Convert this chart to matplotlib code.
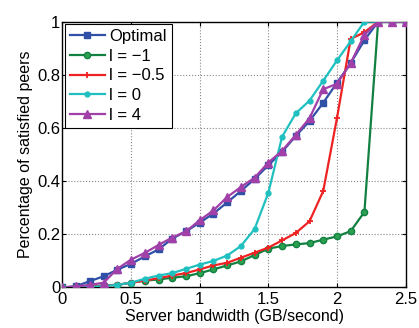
import matplotlib
matplotlib.use("Agg")
import matplotlib.pyplot as plt

plt.rcParams['font.family'] = ['Liberation Sans', 'DejaVu Sans']

x = [0.0, 0.1, 0.2, 0.3, 0.4, 0.5, 0.6, 0.7, 0.8, 0.9, 1.0, 1.1, 1.2,
     1.3, 1.4, 1.5, 1.6, 1.7, 1.8, 1.9, 2.0, 2.1, 2.2, 2.3, 2.4, 2.5]

optimal = [0.0, 0.005, 0.024, 0.042, 0.067, 0.089, 0.117, 0.143, 0.184, 0.211,
           0.244, 0.278, 0.32, 0.363, 0.408, 0.46, 0.51, 0.57, 0.626, 0.695,
           0.77, 0.844, 0.93, 1.0, 1.0, 1.0]
l_m1 = [0.0, 0.0, 0.004, 0.008, 0.01, 0.018, 0.026, 0.03, 0.037, 0.042,
        0.054, 0.068, 0.083, 0.098, 0.122, 0.146, 0.156, 0.162, 0.167, 0.18,
        0.192, 0.212, 0.284, 1.0, 1.0, 1.0]
l_m05 = [0.0, 0.0, 0.003, 0.006, 0.01, 0.018, 0.026, 0.035, 0.045, 0.054,
         0.068, 0.083, 0.093, 0.112, 0.131, 0.15, 0.177, 0.205, 0.249, 0.363,
         0.637, 0.935, 0.96, 1.0, 1.0, 1.0]
l_0 = [0.0, 0.0, 0.002, 0.005, 0.01, 0.018, 0.033, 0.045, 0.054, 0.07,
       0.086, 0.1, 0.12, 0.156, 0.22, 0.356, 0.567, 0.655, 0.703, 0.778,
       0.854, 0.926, 1.0, 1.0, 1.0, 1.0]
l_4 = [0.0, 0.004, 0.01, 0.018, 0.07, 0.105, 0.13, 0.16, 0.188, 0.211,
       0.253, 0.29, 0.34, 0.378, 0.413, 0.47, 0.514, 0.574, 0.637, 0.746,
       0.766, 0.844, 0.95, 1.0, 1.0, 1.0]

labels = ['Optimal', 'l = \u22121', 'l = \u22120.5', 'l = 0', 'l = 4']
xticks = [0, 0.5, 1, 1.5, 2, 2.5]
xticklabels = ['0', '0.5', '1', '1.5', '2', '2.5']
yticks = [0, 0.2, 0.4, 0.6, 0.8, 1]
yticklabels = ['0', '0.2', '0.4', '0.6', '0.8', '1']

fig = plt.figure(figsize=(4.19, 3.28), dpi=100)
ax = fig.add_axes([0.149, 0.1235, 0.819, 0.8105])

ax.plot(x, optimal, color='#3050a8', marker='s', ms=4.5, lw=1.6, label=labels[0], zorder=3)
ax.plot(x, l_m1, color='#118040', marker='o', ms=4.5, mfc='#2aa050', lw=1.6, label=labels[1], zorder=3)
ax.plot(x, l_m05, color='#ee2222', marker='+', ms=5, mew=1.3, lw=1.6, label=labels[2], zorder=3)
ax.plot(x, l_0, color='#20c0c0', marker='o', ms=3.5, lw=1.6, label=labels[3], zorder=3)
ax.plot(x, l_4, color='#a040a8', marker='^', ms=6, lw=1.6, label=labels[4], zorder=3)

ax.set_xlim(0, 2.5)
ax.set_ylim(0, 1)
ax.set_xticks(xticks)
ax.set_xticklabels(xticklabels)
ax.set_yticks(yticks)
ax.set_yticklabels(yticklabels)
ax.tick_params(direction='in', labelsize=12, length=3, top=True, right=True)
ax.tick_params(axis='x', pad=3.5)
ax.tick_params(axis='y', pad=1.5)
ax.grid(True, linestyle=':', color='#888888', lw=0.8)
for s in ax.spines.values():
    s.set_linewidth(1.0)

ax.set_xlabel('Server bandwidth (GB/second)', fontsize=11.5, labelpad=1.5)
ax.set_ylabel('Percentage of satisfied peers', fontsize=11.5, labelpad=3)

leg = ax.legend(loc='upper left', fontsize=12, fancybox=False, edgecolor='black',
                framealpha=1, handlelength=2.1, handletextpad=0.25, borderpad=0.3,
                labelspacing=0.28, borderaxespad=0.15)
leg.get_frame().set_linewidth(0.8)

fig.savefig('out.png', dpi=100)
